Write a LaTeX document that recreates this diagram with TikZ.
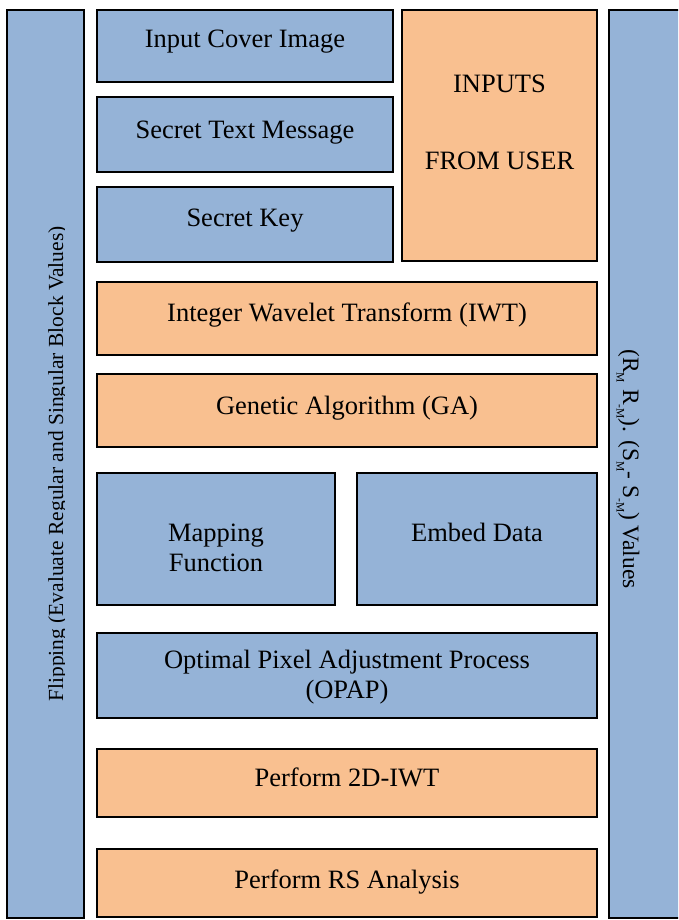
\documentclass[tikz,border=0pt]{standalone}
\usepackage{fontspec}
\setmainfont{Liberation Serif}
\usetikzlibrary{calc}
\definecolor{boxblue}{HTML}{95B3D7}
\definecolor{boxorange}{HTML}{F9C090}
% small lowered index used in the right-hand bar
\newcommand\lowidx[1]{\raisebox{-6.5pt}{\fontsize{11.5}{11.5}\selectfont #1}}
\begin{document}
\begin{tikzpicture}[x=1pt,y=-1pt,
  blk/.style={draw=black, line width=1.6pt, inner sep=0pt, outer sep=0pt},
  bluebox/.style={blk, fill=boxblue},
  orangebox/.style={blk, fill=boxorange},
  txt/.style={font=\fontsize{26.5}{30}\selectfont, inner sep=0pt, anchor=base},
  sidetxt/.style={font=\fontsize{21.5}{26}\selectfont, inner sep=0pt, anchor=base}]
\clip (0,0) rectangle (678,920);
\fill[white] (0,0) rectangle (678,920);

% side bars
\node[bluebox, minimum width=77pt, minimum height=908pt] (leftbar) at (45.5,464) {};
\node[bluebox, minimum width=81pt, minimum height=908pt] (rightbar) at (649.5,464) {};

% user inputs
\node[bluebox, minimum width=296pt, minimum height=72pt] (cover) at (245,46) {};
\node[bluebox, minimum width=296pt, minimum height=75pt] (message) at (245,134.5) {};
\node[bluebox, minimum width=296pt, minimum height=75pt] (key) at (245,224.5) {};
\node[orangebox, minimum width=195pt, minimum height=251pt] (inputs) at (499.5,135.5) {};

% processing stages
\node[orangebox, minimum width=500pt, minimum height=73pt] (iwt) at (347,318.5) {};
\node[orangebox, minimum width=500pt, minimum height=73pt] (ga) at (347,410.5) {};
\node[bluebox, minimum width=238pt, minimum height=132pt] (mapping) at (216,539) {};
\node[bluebox, minimum width=240pt, minimum height=132pt] (embed) at (477,539) {};
\node[bluebox, minimum width=500pt, minimum height=85pt] (opap) at (347,675.5) {};
\node[orangebox, minimum width=500pt, minimum height=68pt] (twod) at (347,783) {};
\node[orangebox, minimum width=500pt, minimum height=68pt] (rs) at (347,883) {};

% labels
\node[txt] (coverlbl) at ($(cover.center)+(0,2)$) {Input Cover Image};
\node[txt] (messagelbl) at ($(message.center)+(0,4)$) {Secret Text Message};
\node[txt] (keylbl) at ($(key.center)+(0,2)$) {Secret Key};
\node[txt] (inputslbla) at ($(inputs.center)+(0,-42.5)$) {INPUTS};
\node[txt] (inputslblb) at ($(inputs.center)+(0,34.5)$) {FROM USER};
\node[txt] (iwtlbl) at ($(iwt.center)+(0,3)$) {Integer Wavelet Transform (IWT)};
\node[txt] (galbl) at ($(ga.center)+(0,3.5)$) {Genetic Algorithm (GA)};
\node[txt] (mappinglbla) at ($(mapping.center)+(0,2)$) {Mapping};
\node[txt] (mappinglblb) at ($(mapping.center)+(0,32)$) {Function};
\node[txt] (embedlbl) at ($(embed.center)+(0,2)$) {Embed Data};
\node[txt] (opaplbla) at ($(opap.center)+(0,-7)$) {Optimal Pixel Adjustment Process};
\node[txt] (opaplblb) at ($(opap.center)+(0,23)$) {(OPAP)};
\node[txt] (twodlbl) at ($(twod.center)+(0,3)$) {Perform 2D-IWT};
\node[txt] (rslbl) at ($(rs.center)+(0,5)$) {Perform RS Analysis};

% vertical captions of the side bars
\begin{scope}
  \clip (8,11) rectangle (64.5,917);
  \node[sidetxt, rotate=90] (leftlbl) at (63,464)
    {Flipping (Evaluate Regular and Singular Block Values)};
\end{scope}
\begin{scope}
  \clip (616.5,11) rectangle (677,917);
  \node[sidetxt, font=\fontsize{23.5}{28}\selectfont, rotate=-90] (rightlbl) at (623,469)
    {(R\lowidx{M} R\lowidx{-M}). (S\lowidx{M}- S\lowidx{-M}) Values};
\end{scope}
\end{tikzpicture}
\end{document}
